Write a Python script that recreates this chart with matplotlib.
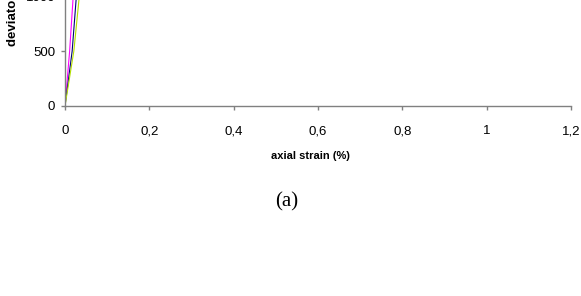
import matplotlib
matplotlib.use('Agg')
import matplotlib.pyplot as plt

plt.rcParams['font.family'] = ['Liberation Sans', 'DejaVu Sans']

# test curves (strain %, deviator stress kPa)
strain_1 = [0, 0.011, 0.0195, 0.025]
stress_1 = [0, 500, 1000, 1300]
strain_2 = [0, 0.017, 0.027, 0.034]
stress_2 = [0, 500, 1000, 1300]
strain_3 = [0, 0.021, 0.034, 0.043]
stress_3 = [0, 500, 1000, 1300]

x_ticks = [0, 0.2, 0.4, 0.6, 0.8, 1.0, 1.2]
x_tick_labels = ['0', '0,2', '0,4', '0,6', '0,8', '1', '1,2']
y_ticks = [0, 500, 1000]
y_tick_labels = ['0', '500', '1000']

W, H = 581, 296
fig = plt.figure(figsize=(W / 100, H / 100), dpi=100)
# axes runs past the top edge, the picture is cropped there
ax = fig.add_axes([65 / W, 190 / H, 506 / W, 132 / H])

ax.plot(strain_1, stress_1, color='#FF00FF', lw=0.8)
ax.plot(strain_2, stress_2, color='#000080', lw=0.8)
ax.plot(strain_3, stress_3, color='#B5E000', lw=0.8)

ax.set_xlim(0, 1.2)
ax.set_ylim(0, 1200)
ax.set_xticks(x_ticks)
ax.set_xticklabels(x_tick_labels)
ax.set_yticks(y_ticks)
ax.set_yticklabels(y_tick_labels)

for s in ['top', 'right']:
    ax.spines[s].set_visible(False)
for s in ['left', 'bottom']:
    ax.spines[s].set_color('#808080')
    ax.spines[s].set_linewidth(1.0)

ax.tick_params(axis='x', direction='out', length=3, width=1.0, color='#808080',
               pad=11, labelsize=9.5)
ax.tick_params(axis='y', direction='out', length=3, width=1.0, color='#808080',
               pad=4, labelsize=9.5)

ax.set_xlabel('axial strain (%)', fontsize=8, fontweight='bold')
ax.xaxis.set_label_coords(310 / W, 1 - 151 / H, transform=fig.transFigure)
ax.set_ylabel('deviator stress (kPa)', fontsize=9.5, fontweight='bold')
ax.yaxis.set_label_coords(19 / W, 1 + 19 / H, transform=fig.transFigure)

fig.text(287 / W, 1 - 202 / H, '(a)', ha='center', va='center',
         family='Liberation Serif', fontsize=15)

fig.savefig('out.png', dpi=100)
